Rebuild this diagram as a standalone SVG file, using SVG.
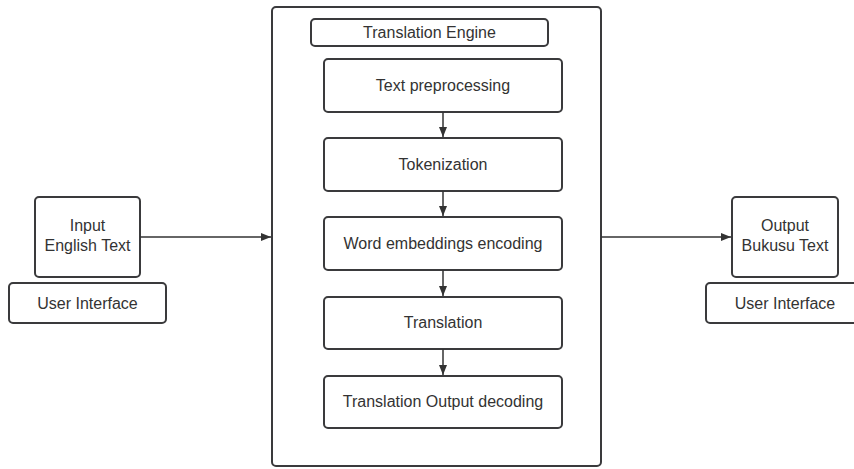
<svg xmlns="http://www.w3.org/2000/svg" width="854" height="469" viewBox="0 0 854 469">
<defs>
<marker id="ah" markerWidth="10" markerHeight="8" refX="10" refY="4" orient="auto" markerUnits="userSpaceOnUse">
<path d="M0,0 L10,4 L0,8 Z" fill="#333"/>
</marker>
<style>
.b{fill:#fff;stroke:#3a3a3c;stroke-width:2}
.t{font-family:"Liberation Sans",Arial,sans-serif;font-size:16px;fill:#333;text-anchor:middle}
.c{stroke:#333;stroke-width:1.5;fill:none;marker-end:url(#ah)}
</style>
</defs>
<rect width="854" height="469" fill="#fff"/>
<g id="engine">
<rect class="b" x="272" y="7" width="329" height="459" rx="4"/>
</g>
<g id="engine-title">
<rect class="b" x="311" y="19" width="237" height="27" rx="4"/>
<text class="t" x="429.5" y="38">Translation Engine</text>
</g>
<g id="preproc">
<rect class="b" x="324" y="59" width="238" height="53" rx="4"/>
<text class="t" x="443" y="91">Text preprocessing</text>
</g>
<g id="token">
<rect class="b" x="324" y="138" width="238" height="53" rx="4"/>
<text class="t" x="443" y="170">Tokenization</text>
</g>
<g id="embed">
<rect class="b" x="324" y="217" width="238" height="53" rx="4"/>
<text class="t" x="443" y="249">Word embeddings encoding</text>
</g>
<g id="translation">
<rect class="b" x="324" y="297" width="238" height="52" rx="4"/>
<text class="t" x="443" y="328">Translation</text>
</g>
<g id="decode">
<rect class="b" x="324" y="376" width="238" height="52" rx="4"/>
<text class="t" x="443" y="407">Translation Output decoding</text>
</g>
<g id="input">
<rect class="b" x="35" y="197" width="105" height="80" rx="4"/>
<text class="t" x="87.5" y="231">Input</text>
<text class="t" x="87.5" y="251">English Text</text>
</g>
<g id="ui-left">
<rect class="b" x="9" y="283" width="157" height="40" rx="4"/>
<text class="t" x="87.5" y="309">User Interface</text>
</g>
<g id="output">
<rect class="b" x="732" y="197" width="106" height="80" rx="4"/>
<text class="t" x="785" y="231">Output</text>
<text class="t" x="785" y="251">Bukusu Text</text>
</g>
<g id="ui-right">
<rect class="b" x="706" y="283" width="160" height="40" rx="4"/>
<text class="t" x="785" y="309">User Interface</text>
</g>
<g id="connectors">
<line class="c" x1="140" y1="237" x2="271" y2="237"/>
<line class="c" x1="601" y1="237" x2="731" y2="237"/>
<line class="c" x1="443" y1="112" x2="443" y2="137"/>
<line class="c" x1="443" y1="191" x2="443" y2="216"/>
<line class="c" x1="443" y1="270" x2="443" y2="296"/>
<line class="c" x1="443" y1="349" x2="443" y2="375"/>
</g>
</svg>
